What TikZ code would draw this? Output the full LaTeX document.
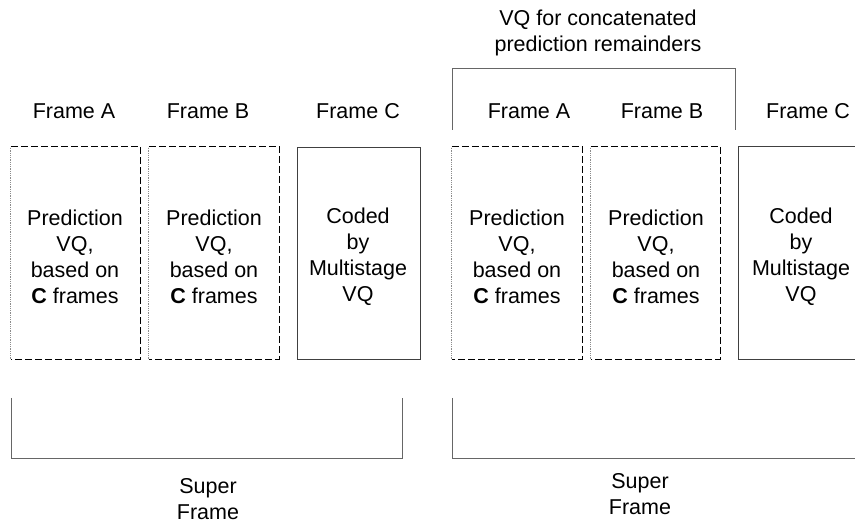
\documentclass[tikz,border=0pt]{standalone}
\usepackage{fontspec}
\setmainfont{Liberation Sans}
\begin{document}
\begin{tikzpicture}[x=1pt,y=-1pt,
  txt/.style={font=\fontsize{21.5}{26}\selectfont, align=center, inner sep=0pt},
  framebox/.style={inner sep=0pt, minimum height=212pt},
  solidline/.style={draw=black!75, line width=0.9pt},
  dashline/.style={draw=black, line width=1.2pt, dash pattern=on 7pt off 3pt},
  thinside/.style={draw=black!45, line width=0.8pt, densely dotted},
  brk/.style={draw=black!60, line width=1pt}]
\useasboundingbox (0,0) rectangle (855,526);

% boxes
\node[framebox, minimum width=129pt] (b1) at (75.5,253) {};
\node[framebox, minimum width=130pt] (b2) at (214,253) {};
\node[framebox, minimum width=123pt, solidline, draw] (b3) at (358.5,253) {};
\node[framebox, minimum width=130pt] (b4) at (517,253) {};
\node[framebox, minimum width=129pt] (b5) at (655.5,253) {};
\node[framebox, minimum width=116pt] (b6) at (797,253) {};

\foreach \b in {b1,b2,b4,b5}{
  \draw[thinside] (\b.south west) -- (\b.north west);
  \draw[dashline] (\b.north west) -- (\b.north east) -- (\b.south east) -- (\b.south west);
}
\draw[solidline] (b6.north east) -- (b6.north west) -- (b6.south west) -- (b6.south east);

% box texts
\node[txt] (t1) at (75,257) {Prediction\\VQ,\\based on\\\textbf{C} frames};
\node[txt] (t2) at (214,257) {Prediction\\VQ,\\based on\\\textbf{C} frames};
\node[txt] (t3) at (358,257) {Coded\\by\\Multistage\\VQ};
\node[txt] (t4) at (517,257) {Prediction\\VQ,\\based on\\\textbf{C} frames};
\node[txt] (t5) at (656,257) {Prediction\\VQ,\\based on\\\textbf{C} frames};
\node[txt] (t6) at (801,257) {Coded\\by\\Multistage\\VQ};

% frame labels
\node[txt, anchor=base] (l1) at (74,119) {Frame A};
\node[txt, anchor=base] (l2) at (208,119) {Frame B};
\node[txt, anchor=base] (l3) at (358,119) {Frame C};
\node[txt, anchor=base] (l4) at (529,119) {Frame A};
\node[txt, anchor=base] (l5) at (662,119) {Frame B};
\node[txt, anchor=base] (l6) at (808,119) {Frame C};

% top bracket
\coordinate (ta) at (452,130);
\coordinate (tb) at (452,69);
\coordinate (tc) at (735,69);
\coordinate (td) at (735,130);
\draw[brk] (ta) -- (tb) -- (tc) -- (td);
\node[txt] (vq) at (598,33) {VQ for concatenated\\prediction remainders};

% bottom brackets
\coordinate (la) at (11,398);
\coordinate (lb) at (11,459);
\coordinate (lc) at (402,459);
\coordinate (ld) at (402,398);
\draw[brk] (la) -- (lb) -- (lc) -- (ld);
\coordinate (ra) at (452,398);
\coordinate (rb) at (452,459);
\coordinate (rc) at (855,459);
\draw[brk] (ra) -- (rb) -- (rc);

\node[txt] (s1) at (208,499) {Super\\Frame};
\node[txt] (s2) at (640,494) {Super\\Frame};
\end{tikzpicture}
\end{document}
